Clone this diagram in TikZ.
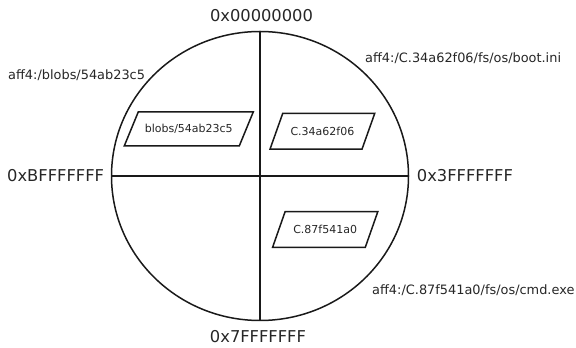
\documentclass[tikz,border=0pt]{standalone}
\usepackage{fontspec}
\setmainfont{DejaVu Sans}
\usetikzlibrary{shapes.geometric,calc}
\newcommand{\pgbox}[4]{\draw[ln] ($(#1)+({-#2/2+#4/2},{#3/2})$) -- ++(#2,0) -- ++({-#4},{-#3}) -- ++({-#2},0) -- cycle;}
\begin{document}
\begin{tikzpicture}[x=1pt,y=1pt,
  ln/.style={line width=1.5pt, draw=black!90},
  big/.style={font=\fontsize{16.3}{19}\selectfont, inner sep=0, text=black!85},
  lbl/.style={font=\fontsize{12.9}{15}\selectfont, inner sep=0, text=black!85},
  btxt/.style={font=\fontsize{11}{13}\selectfont, inner sep=0, text=black!85}]
\useasboundingbox (0,0) rectangle (576,348);
\node[ln, ellipse, minimum width=297pt, minimum height=289pt, inner sep=0, outer sep=0] (c) at (260,172) {};
\draw[ln] (c.north) -- (c.south);
\draw[ln] (c.west) -- (c.east);
\node[big, anchor=base] (n0) at (261.5,326) {0x00000000};
\node[big, anchor=base] (n7) at (258,5) {0x7FFFFFFF};
\node[big, anchor=base west] (nB) at (7,166.3) {0xBFFFFFFF};
\node[big, anchor=base west] (n3) at (416.7,166.3) {0x3FFFFFFF};
\node[lbl, anchor=base west] (l1) at (8,268.7) {aff4:/blobs/54ab23c5};
\node[lbl, anchor=base west] (l2) at (365,285.3) {aff4:/C.34a62f06/fs/os/boot.ini};
\node[lbl, anchor=base west] (l3) at (372,53) {aff4:/C.87f541a0/fs/os/cmd.exe};
\node[btxt] (b1) at (188.75,219) {blobs/54ab23c5};
\node[btxt] (b2) at (322.4,216.8) {C.34a62f06};
\node[btxt] (b3) at (325.2,118.5) {C.87f541a0};
\pgbox{b1}{115}{34}{14}
\pgbox{b2}{92}{35.7}{12.7}
\pgbox{b3}{92.7}{35.6}{12.5}
\end{tikzpicture}
\end{document}
